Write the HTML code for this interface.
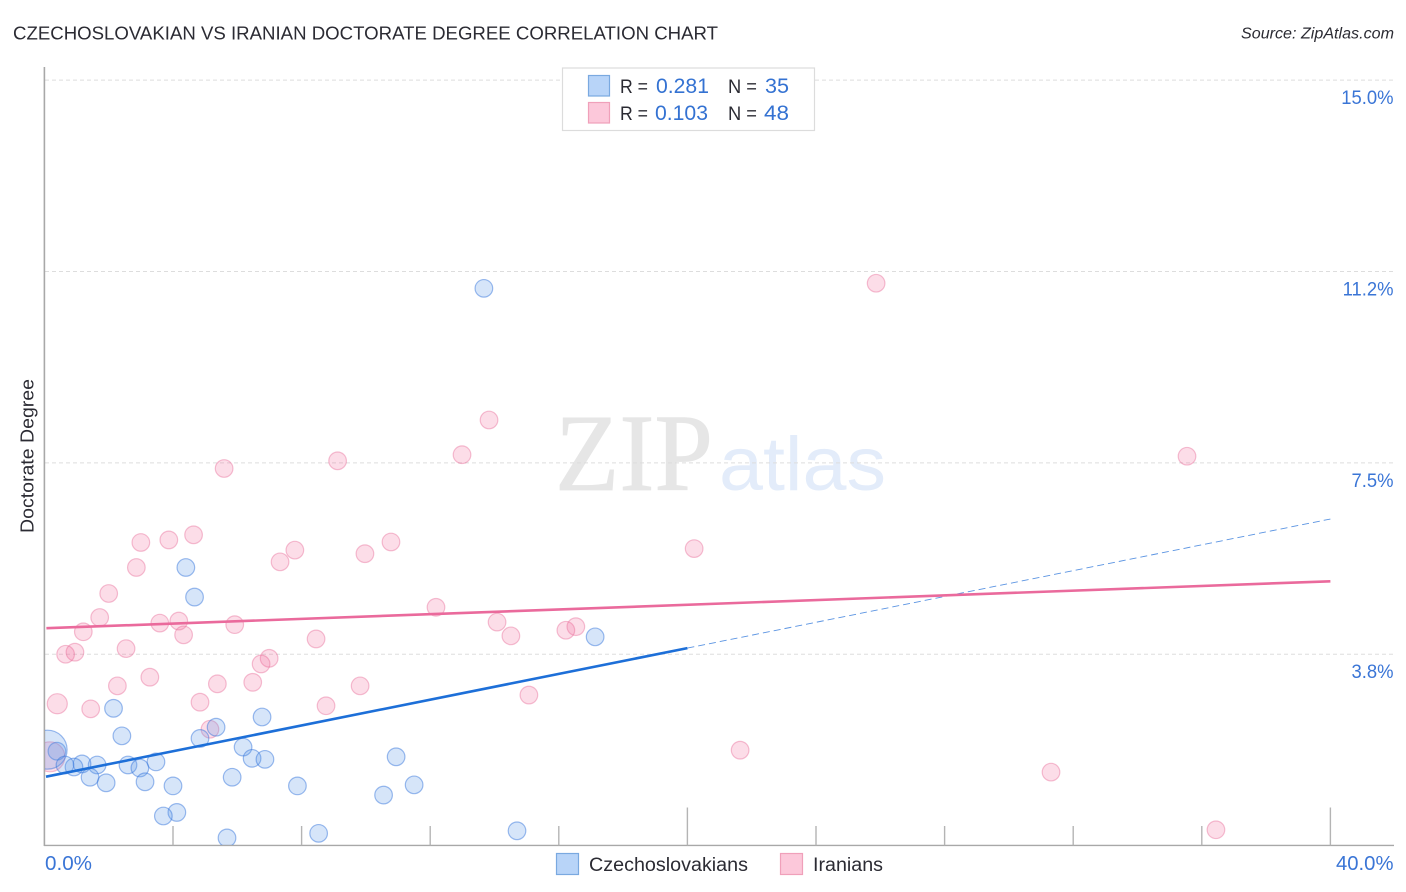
<!DOCTYPE html>
<html lang="en">
<head>
<meta charset="utf-8">
<title>Czechoslovakian vs Iranian Doctorate Degree Correlation Chart</title>
<style>
html,body{margin:0;padding:0;background:#fff;width:1406px;height:892px;overflow:hidden}
svg{display:block}
text{font-family:"Liberation Sans",sans-serif}
</style>
</head>
<body>
<svg id="chart" xmlns="http://www.w3.org/2000/svg" width="1406" height="892" viewBox="0 0 1406 892">
  <defs>
    <clipPath id="plot-clip"><rect x="45" y="60" width="1349" height="785"></rect></clipPath>
  </defs>
  <rect x="0" y="0" width="1406" height="892" fill="#ffffff"></rect>

  <text x="13" y="39.5" font-size="18.5" fill="#2b2b33" textLength="705" lengthAdjust="spacingAndGlyphs">CZECHOSLOVAKIAN VS IRANIAN DOCTORATE DEGREE CORRELATION CHART</text>
  <text x="1241" y="38.5" font-size="15.5" font-style="italic" fill="#2b2b33" textLength="153" lengthAdjust="spacingAndGlyphs">Source: ZipAtlas.com</text>

  <g>
    <text x="555" y="490" font-size="110" fill="#e6e6e6" stroke="#e6e6e6" stroke-width="0.8" textLength="158" lengthAdjust="spacingAndGlyphs" style="font-family:'Liberation Serif',serif">ZIP</text>
    <text x="719" y="490" font-size="76" fill="#e3ecfa" textLength="167" lengthAdjust="spacingAndGlyphs">atlas</text>
  </g>

  <g id="grid"></g>
  <g id="axes"></g>
  <g id="marks" clip-path="url(#plot-clip)"></g>
  <g id="trends"></g>
  <g id="labels"></g>

  <text transform="translate(33.5,456) rotate(-90)" text-anchor="middle" font-size="18.5" fill="#2b2b33" textLength="154" lengthAdjust="spacingAndGlyphs">Doctorate Degree</text>

  <g>
    <rect x="562.5" y="68" width="252" height="62.5" fill="#ffffff" stroke="#dcdcdc" stroke-width="1.2"></rect>
    <rect x="588.5" y="75.5" width="21" height="20.5" fill="#b8d4f8" stroke="#7aa9e0" stroke-width="1.2"></rect>
    <rect x="588.5" y="102.5" width="21" height="20.5" fill="#fcc8da" stroke="#f0a0ba" stroke-width="1.2"></rect>
    <text x="620" y="93" font-size="19" fill="#2b2b33" textLength="28" lengthAdjust="spacingAndGlyphs">R =</text>
    <text x="656" y="93" font-size="21.5" fill="#3472d2" textLength="53" lengthAdjust="spacingAndGlyphs">0.281</text>
    <text x="728" y="93" font-size="19" fill="#2b2b33" textLength="29" lengthAdjust="spacingAndGlyphs">N =</text>
    <text x="765" y="93" font-size="21.5" fill="#3472d2" textLength="24" lengthAdjust="spacingAndGlyphs">35</text>
    <text x="620" y="120" font-size="19" fill="#2b2b33" textLength="28" lengthAdjust="spacingAndGlyphs">R =</text>
    <text x="655" y="120" font-size="21.5" fill="#3472d2" textLength="53" lengthAdjust="spacingAndGlyphs">0.103</text>
    <text x="728" y="120" font-size="19" fill="#2b2b33" textLength="29" lengthAdjust="spacingAndGlyphs">N =</text>
    <text x="764" y="120" font-size="21.5" fill="#3472d2" textLength="25" lengthAdjust="spacingAndGlyphs">48</text>
  </g>

  <g>
    <g>
      <rect x="556.5" y="853.5" width="22" height="21" fill="#b8d4f8" stroke="#7aa9e0" stroke-width="1.2"></rect>
      <text x="589" y="871" font-size="19" fill="#2b2b33" textLength="159" lengthAdjust="spacingAndGlyphs">Czechoslovakians</text>
    </g>
    <g>
      <rect x="780.5" y="853.5" width="22" height="21" fill="#fcc8da" stroke="#f0a0ba" stroke-width="1.2"></rect>
      <text x="813" y="871" font-size="19" fill="#2b2b33" textLength="70" lengthAdjust="spacingAndGlyphs">Iranians</text>
    </g>
  </g>
</svg>

<script>
var xTickValues = [0, 4, 8, 12, 16, 20, 24, 28, 32, 36, 40];
var xMajorTicks = [20, 40];
var xEndLabels = ["0.0%", "40.0%"];
var yTickValues = [3.75, 7.5, 11.25, 15];
var yTickLabels = ["3.8%", "7.5%", "11.2%", "15.0%"];

var czechX = [13.67, 4.40, 4.67, 17.13, 2.15, 6.77, 5.34, 2.41, 4.84, 6.18, 0.39, 0.10, 10.94, 6.46, 6.86, 3.47, 2.60, 1.64, 1.17, 0.92, 0.64, 2.97, 1.42, 5.84, 1.92, 3.13, 4.00, 7.87, 11.50, 10.55, 4.12, 3.70, 14.70, 8.53, 5.68];
var czechY = [10.92, 5.45, 4.87, 4.09, 2.69, 2.52, 2.32, 2.15, 2.10, 1.93, 1.85, 1.88, 1.74, 1.71, 1.69, 1.64, 1.58, 1.58, 1.60, 1.54, 1.58, 1.52, 1.34, 1.34, 1.23, 1.25, 1.17, 1.17, 1.19, 0.99, 0.65, 0.58, 0.29, 0.24, 0.15];
var czechWeight = [1, 1, 1, 1, 1, 1, 1, 1, 1, 1, 1, 4.9, 1, 1, 1, 1, 1, 1, 1, 1, 1, 1, 1, 1, 1, 1, 1, 1, 1, 1, 1, 1, 1, 1, 1];

var iranX = [25.87, 13.83, 5.59, 9.12, 12.99, 35.54, 4.64, 3.00, 3.87, 10.78, 7.79, 9.97, 20.21, 7.33, 2.86, 2.00, 12.18, 1.72, 4.18, 3.59, 1.21, 4.33, 5.92, 14.08, 14.51, 16.22, 16.53, 8.45, 0.66, 0.95, 2.54, 6.99, 6.74, 3.28, 6.48, 2.27, 5.38, 9.82, 0.40, 1.44, 4.84, 8.76, 15.07, 5.15, 21.64, 31.31, 36.44, 0.17];
var iranY = [11.02, 8.34, 7.39, 7.54, 7.66, 7.63, 6.09, 5.94, 5.99, 5.95, 5.79, 5.72, 5.82, 5.56, 5.45, 4.94, 4.67, 4.47, 4.40, 4.36, 4.19, 4.13, 4.33, 4.38, 4.11, 4.22, 4.29, 4.05, 3.75, 3.79, 3.86, 3.67, 3.56, 3.30, 3.20, 3.13, 3.17, 3.13, 2.78, 2.68, 2.81, 2.74, 2.95, 2.28, 1.87, 1.44, 0.31, 1.74];
var iranWeight = [1, 1, 1, 1, 1, 1, 1, 1, 1, 1, 1, 1, 1, 1, 1, 1, 1, 1, 1, 1, 1, 1, 1, 1, 1, 1, 1, 1, 1, 1, 1, 1, 1, 1, 1, 1, 1, 1, 1.3, 1, 1, 1, 1, 1, 1, 1, 1, 2.9];

var czechTrendX = [0.05, 20, 40];
var czechTrendY = [1.35, 3.87, 6.40];
var iranTrendX = [0, 40];
var iranTrendY = [4.26, 5.18];

var NS = 'http://www.w3.org/2000/svg';
function xScale(v) { return 44.4 + v * 32.15; }
function yScale(v) { return 845.6 - v * 51.03; }
function rScale(w) { return 8.8 * Math.sqrt(w); }

function make(parent, tag, attrs) {
  var el = document.createElementNS(NS, tag);
  for (var k in attrs) { el.setAttribute(k, attrs[k]); }
  parent.appendChild(el);
  return el;
}

var gridG = document.getElementById('grid');
var axesG = document.getElementById('axes');
var marksG = document.getElementById('marks');
var trendsG = document.getElementById('trends');
var labelsG = document.getElementById('labels');

yTickValues.forEach(function (v, i) {
  var line = make(gridG, 'line', { x1: 45, x2: 1393.5, y1: yScale(v), y2: yScale(v), stroke: '#dddddd', 'stroke-width': 1, 'stroke-dasharray': '4 3' });
  
  
  var t = make(labelsG, 'text', { x: 1393.5, y: yScale(v) + 24, 'text-anchor': 'end', 'font-size': 19.5, fill: '#3a75d6' });
  t.textContent = yTickLabels[i];
  
  
  t.setAttribute('textLength', t.getComputedTextLength() * 0.945);
  t.setAttribute('lengthAdjust', 'spacingAndGlyphs');
});

var yAxis = make(axesG, 'line', { x1: 44.4, x2: 44.4, y1: 67, y2: 846, stroke: '#a8a8a8', 'stroke-width': 1.6 });


var xAxis = make(axesG, 'line', { x1: 44, x2: 1394, y1: 845.4, y2: 845.4, stroke: '#a8a8a8', 'stroke-width': 1.4 });



xTickValues.forEach(function (v) {
  if (v === 0) { return; }
  var top = xMajorTicks.indexOf(v) >= 0 ? 807.5 : 826;
  var tick = make(axesG, 'line', { x1: xScale(v), x2: xScale(v), y1: top, y2: 845.4, stroke: '#b4b4b4', 'stroke-width': 1.4 });
  
  
});

var x0Label = make(labelsG, 'text', { x: 45, y: 870, 'font-size': 20, fill: '#3a75d6', textLength: 47, lengthAdjust: 'spacingAndGlyphs' });
x0Label.textContent = xEndLabels[0];


var x1Label = make(labelsG, 'text', { x: 1336, y: 870, 'font-size': 20, fill: '#3a75d6', textLength: 57.5, lengthAdjust: 'spacingAndGlyphs' });
x1Label.textContent = xEndLabels[1];



iranX.forEach(function (v, i) {
  var c = make(marksG, 'circle', { cx: xScale(v), cy: yScale(iranY[i]), r: rScale(iranWeight[i]), fill: 'rgb(240,100,150)', 'fill-opacity': 0.22, stroke: 'rgb(232,105,150)', 'stroke-opacity': 0.42, 'stroke-width': 1.2 });
  
  
});
czechX.forEach(function (v, i) {
  var c = make(marksG, 'circle', { cx: xScale(v), cy: yScale(czechY[i]), r: rScale(czechWeight[i]), fill: 'rgb(90,150,230)', 'fill-opacity': 0.25, stroke: 'rgb(50,115,220)', 'stroke-opacity': 0.48, 'stroke-width': 1.2 });
  
  
});

var blueSolid = make(trendsG, 'line', { x1: xScale(czechTrendX[0]), y1: yScale(czechTrendY[0]), x2: xScale(czechTrendX[1]), y2: yScale(czechTrendY[1]), stroke: '#1d6fd8', 'stroke-width': 2.6 });


var blueDash = make(trendsG, 'line', { x1: xScale(czechTrendX[1]), y1: yScale(czechTrendY[1]), x2: xScale(czechTrendX[2]), y2: yScale(czechTrendY[2]), stroke: '#5b94e2', 'stroke-width': 0.9, 'stroke-dasharray': '7 4' });


var pinkLine = make(trendsG, 'line', { x1: xScale(iranTrendX[0]) + 2, y1: yScale(iranTrendY[0]), x2: xScale(iranTrendX[1]), y2: yScale(iranTrendY[1]), stroke: '#ea6a9c', 'stroke-width': 2.6 });


</script>
</body>
</html>
